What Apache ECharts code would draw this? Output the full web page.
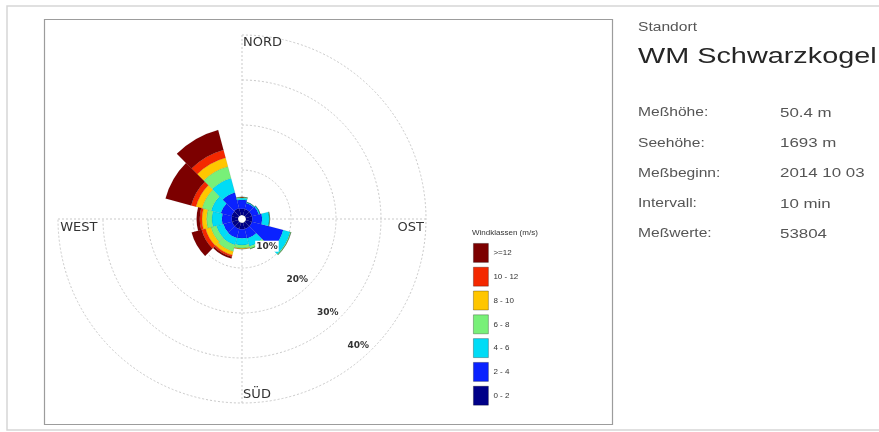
<!DOCTYPE html>
<html>
<head>
<meta charset="utf-8">
<title>Windrose WM Schwarzkogel</title>
<script src="https://cdn.jsdelivr.net/npm/echarts@6.0.0/dist/echarts.min.js"></script>
<style>
  html, body { margin: 0; padding: 0; background: #fff; }
  #chart { width: 879px; height: 432px; }
</style>
</head>
<body>
<div id="chart"></div>
<script>
// Direction sectors (30° each, clockwise from north)
const directions = ['0', '30', '60', '90', '120', '150', '180', '210', '240', '270', '300', '330'];

// Frequency (%) per wind-speed class and direction
const class0to2   = [1.4, 1.4, 1.4, 1.4, 1.4, 1.4, 1.4, 1.4, 1.4, 1.4, 1.5, 1.6];
const class2to4   = [2.0, 1.4, 1.6, 2.2, 7.2, 2.2, 2.0, 2.1, 2.0, 2.2, 2.5, 3.6];
const class4to6   = [0.4, 0.2, 0.3, 1.6, 1.6, 1.8, 1.5, 1.6, 1.6, 2.2, 2.2, 3.3];
const class6to8   = [0.2, 0.0, 0.0, 0.1, 0.2, 0.6, 0.7, 1.5, 1.3, 1.2, 2.1, 2.7];
const class8to10  = [0.0, 0.0, 0.0, 0.0, 0.0, 0.0, 0.2, 0.8, 1.2, 1.0, 1.4, 2.0];
const class10to12 = [0.0, 0.0, 0.0, 0.0, 0.0, 0.0, 0.0, 0.4, 0.9, 0.5, 1.1, 1.8];
const class12plus = [0.0, 0.0, 0.0, 0.0, 0.0, 0.0, 0.0, 0.4, 2.3, 0.7, 5.9, 4.6];

const classNames = ['0 - 2', '2 - 4', '4 - 6', '6 - 8', '8 - 10', '10 - 12', '>=12'];
const classValues = [class0to2, class2to4, class4to6, class6to8, class8to10, class10to12, class12plus];
const classColors = ['#000088', '#0a22ff', '#00dcf6', '#78f078', '#ffc600', '#f42800', '#7c0000'];

// Compass labels and radial percentage ticks
const compassLabels = ['NORD', 'OST', 'SÜD', 'WEST'];
const percentTicks = [10, 20, 30, 40];

// Station info panel
const stationCaption = 'Standort';
const stationName = 'WM Schwarzkogel';
const infoLabels = ['Meßhöhe:', 'Seehöhe:', 'Meßbeginn:', 'Intervall:', 'Meßwerte:'];
const infoValues = ['50.4 m', '1693 m', '2014 10 03', '10 min', '53804'];

const CENTER = [242, 219];
const R_IN = 4;
const R_OUT = 184;
const gridLine = { color: '#c9c9c9', width: 1, type: [2, 2] };

const chart = echarts.init(document.getElementById('chart'), null, { renderer: 'canvas' });

// Compass labels sit just inside the outer ring: [top, right, bottom, left] padding
const compassPadding = {
  'NORD': [0, 0, 0, 41],
  'OST': [18, 0, 0, -14],
  'SÜD': [0, 0, 0, 30],
  'WEST': [18, -25, 0, 0]
};

const series = classNames.map((name, i) => ({
  name: name,
  type: 'bar',
  coordinateSystem: 'polar',
  polarIndex: 0,
  stack: 'rose',
  barCategoryGap: '0%',
  data: classValues[i],
  itemStyle: { color: classColors[i], borderColor: 'rgba(0,0,0,0.14)', borderWidth: 0.5 },
  emphasis: { disabled: true },
  z: 3
}));

const panelX = 638;
const labelFont = '12px "Liberation Sans", Arial, sans-serif';
const valueFont = '13px "Liberation Sans", Arial, sans-serif';
const graphics = [
  { type: 'rect', z: -10, shape: { x: 7, y: 6, width: 890, height: 424 },
    style: { fill: 'none', stroke: '#d6d6d6', lineWidth: 1.5 } },
  { type: 'rect', z: -10, shape: { x: 44.5, y: 19.5, width: 568, height: 405 },
    style: { fill: 'none', stroke: '#9c9c9c', lineWidth: 1.2 } },
  { type: 'text', x: panelX, y: 22, scaleX: 1.3,
    style: { text: stationCaption, fill: '#555', font: labelFont } },
  { type: 'text', x: panelX, y: 46, scaleX: 1.31,
    style: { text: stationName, fill: '#262626', font: '22px "Liberation Sans", Arial, sans-serif' } }
];
const rowY = [113, 143.5, 173.5, 204, 234];
infoLabels.forEach((lab, i) => {
  graphics.push({ type: 'text', x: panelX, y: rowY[i] - 6, scaleX: 1.3,
    style: { text: lab, fill: '#555', font: labelFont } });
  graphics.push({ type: 'text', x: 780, y: rowY[i] - 6.5, scaleX: 1.3,
    style: { text: infoValues[i], fill: '#555', font: valueFont } });
});

const option = {
  backgroundColor: '#fff',
  animation: false,
  title: {
    text: 'Windklassen (m/s)',
    left: 472, top: 229,
    padding: 0,
    textStyle: { fontSize: 8, fontWeight: 'normal', color: '#333', fontFamily: '"Liberation Sans", Arial, sans-serif' }
  },
  legend: {
    orient: 'vertical',
    left: 473, top: 243,
    padding: 0,
    icon: 'rect',
    itemWidth: 15, itemHeight: 19, itemGap: 4,
    selectedMode: false,
    data: classNames.slice().reverse(),
    textStyle: { fontSize: 8, color: '#333', fontFamily: '"Liberation Sans", Arial, sans-serif' },
    itemStyle: { borderColor: 'rgba(0,0,0,0.35)', borderWidth: 0.8 }
  },
  polar: [
    { center: CENTER, radius: [R_IN, R_OUT] },
    { center: CENTER, radius: [R_IN, R_OUT] },
    { center: CENTER, radius: [0, 172] }
  ],
  angleAxis: [
    { polarIndex: 0, type: 'category', data: directions, startAngle: 105, clockwise: true,
      boundaryGap: true, axisLine: { show: false }, axisTick: { show: false },
      axisLabel: { show: false }, splitLine: { show: false } },
    { polarIndex: 1, type: 'category', startAngle: 90, clockwise: true, boundaryGap: false,
      data: compassLabels.map(l => ({ value: l, textStyle: { padding: compassPadding[l] } })),
      axisLine: { show: false }, axisTick: { show: false },
      axisLabel: {
        margin: -14.5,
        formatter: v => '{c|' + v + '}',
        rich: { c: { fontSize: 13, color: '#333', fontFamily: '"DejaVu Sans", sans-serif' } },
        fontSize: 13, color: '#333', fontFamily: '"DejaVu Sans", sans-serif'
      },
      splitLine: { show: true, lineStyle: gridLine }, z: 1 },
    { polarIndex: 2, type: 'value', startAngle: -47.5, show: false }
  ],
  radiusAxis: [
    { polarIndex: 0, type: 'value', min: 0, max: 40, show: false },
    { polarIndex: 1, type: 'value', min: 0, max: 40, interval: 10,
      axisLine: { show: false }, axisTick: { show: false }, axisLabel: { show: false },
      splitLine: { show: true, lineStyle: gridLine }, z: 1 },
    { polarIndex: 2, type: 'value', min: 1.8, max: 40,
      axisLine: { show: false }, axisTick: { show: false }, splitLine: { show: false },
      axisLabel: {
        customValues: percentTicks,
        formatter: '{value}%',
        margin: 0, align: 'center', verticalAlign: 'middle',
        fontSize: 9, fontWeight: 'bold', color: '#333',
        fontFamily: '"DejaVu Sans", sans-serif',
        backgroundColor: '#fff', padding: [1, 1]
      },
      z: 10 }
  ],
  series: series,
  graphic: graphics
};

chart.setOption(option);
</script>
</body>
</html>
